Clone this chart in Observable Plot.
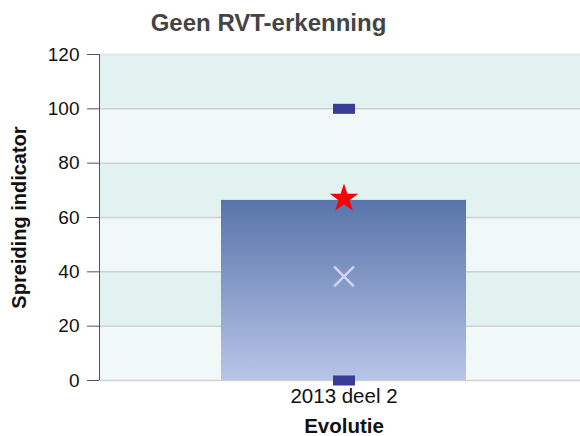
<!DOCTYPE html>
<html><head><meta charset="utf-8">
<script src="https://cdn.jsdelivr.net/npm/d3@7"></script>
<script src="https://cdn.jsdelivr.net/npm/@observablehq/plot@0.6"></script>
<style>
body{margin:0;background:#fff;font-family:"Liberation Sans",Arial,sans-serif;}
#title{height:40px;width:580px;position:relative;}
#title span{position:absolute;left:0;width:537px;text-align:center;top:9px;font-size:24px;font-weight:bold;color:#444;white-space:nowrap;}
</style></head>
<body>
<div id="title"><span>Geen RVT-erkenning</span></div>
<div id="chart"></div>
<script>
const categories = ["2013 deel 2"];
const barValues = [66.3];
const maxValues = [100];
const minValues = [0];
const starValues = [67];
const meanValues = [38.3];
const yTicks = [0, 20, 40, 60, 80, 100, 120];
const bandStarts = [0, 20, 40, 60, 80, 100];
const bandWidth = 20;

const rows = categories.map((c, i) => ({c, bar: barValues[i], max: maxValues[i], min: minValues[i], star: starValues[i], mean: meanValues[i]}));
const bands = bandStarts.map((s, i) => ({y1: s, y2: s + bandWidth, dark: i % 2 === 1}));

const dash = {draw(ctx) { ctx.rect(-11, -5, 22, 10); }};

const chart = Plot.plot({
  width: 580, height: 396,
  marginLeft: 99, marginRight: 0, marginTop: 14, marginBottom: 56,
  style: {fontFamily: "'Liberation Sans', Arial, sans-serif", fontSize: "19px", color: "#111", background: "transparent"},
  x: {domain: categories, range: [99, 587], padding: 0.331, label: null},
  y: {domain: [0, 120], ticks: yTicks, label: null},
  marks: [
    Plot.rect(bands, {y1: "y1", y2: "y2", fill: d => d.dark ? "#e2f2f0" : "#f0f9f7"}),
    Plot.ruleY(yTicks.slice(0, -1), {stroke: "#d0d0d0", strokeWidth: 1.5}),
    Plot.ruleY([120], {stroke: "#e2e2e2", strokeWidth: 1.5}),
    Plot.barY(rows, {x: "c", y: "bar", fill: "url(#barGrad)"}),
    Plot.dot(rows, {x: "c", y: "max", symbol: dash, fill: "#383c96", stroke: null}),
    Plot.dot(rows, {x: "c", y: "min", symbol: dash, fill: "#383c96", stroke: null}),
    Plot.dot(rows, {x: "c", y: "mean", symbol: "times", stroke: "#d4d4f2", strokeWidth: 2.5, r: 9}),
    Plot.dot(rows, {x: "c", y: "star", symbol: "star", fill: "red", stroke: null, r: 9}),
    Plot.axisY({ticks: yTicks, tickSize: 12, tickPadding: 8, stroke: "#555", fontSize: 19, label: null}),
    Plot.axisX({tickSize: 0, tickPadding: 8, fontSize: 20.5, label: null}),
    Plot.text(["Spreiding indicator"], {frameAnchor: "left", dx: -80, rotate: -90, textAnchor: "middle", fontWeight: "bold", fontSize: 20, fill: "#111"}),
    Plot.text(["Evolutie"], {frameAnchor: "bottom", x: () => categories[0], dy: 52, fontWeight: "bold", fontSize: 20.5, fill: "#111"})
  ]
});

const svg = d3.select(chart);
const defs = svg.insert("defs", ":first-child");
const g = defs.append("linearGradient").attr("id", "barGrad").attr("x1", 0).attr("y1", 0).attr("x2", 0).attr("y2", 1);
g.append("stop").attr("offset", "0%").attr("stop-color", "#5874aa");
g.append("stop").attr("offset", "100%").attr("stop-color", "#b8c5e8");
svg.append("line").attr("x1", 99.5).attr("x2", 99.5).attr("y1", 14).attr("y2", 340).attr("stroke", "#555");
document.getElementById("chart").appendChild(chart);
</script>
</body></html>
